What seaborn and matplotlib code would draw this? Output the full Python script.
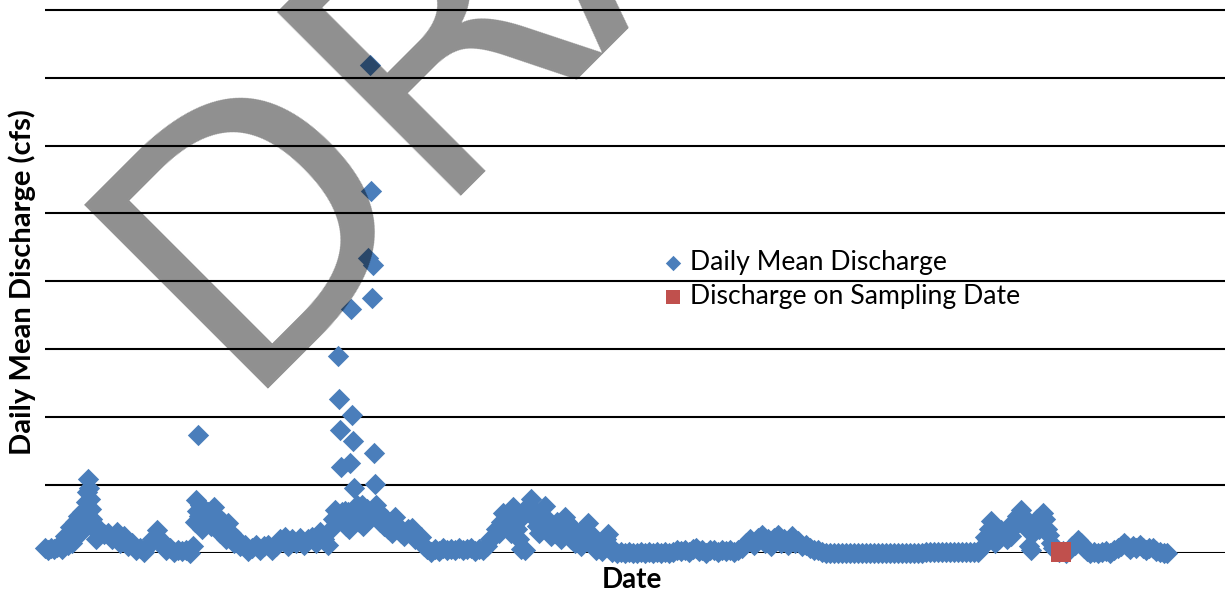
import numpy as np
import pandas as pd
import matplotlib
matplotlib.use("Agg")
import matplotlib.pyplot as plt
import seaborn as sns

# daily mean discharge (day offset from first record, cfs)
start = pd.Timestamp("2009-10-01")
days = [0, 3, 6, 9, 12, 15, 17, 20, 23, 25, 27, 30, 33, 35, 37, 39, 41, 42, 43, 44,
        45, 46, 47, 49, 51, 55, 59, 63, 67, 72, 75, 79, 83, 87, 91, 95, 99, 103, 107, 112,
        115, 118, 121, 125, 129, 133, 137, 141, 145, 148, 150, 151, 152, 153, 154, 155, 157, 160, 163, 166,
        169, 172, 175, 178, 181, 183, 186, 189, 192, 195, 200, 203, 207, 211, 215, 219, 223, 227, 231, 235,
        240, 243, 247, 251, 255, 259, 263, 267, 271, 275, 279, 283, 286, 288, 290, 291, 293, 294, 295, 296,
        297, 298, 299, 300, 301, 302, 303, 304, 305, 306, 307, 308, 309, 310, 311, 312, 313, 314, 315, 316,
        317, 318, 319, 320, 321, 322, 323, 324, 325, 326, 327, 328, 329, 330, 331, 332, 333, 334, 335, 337,
        339, 341, 343, 345, 347, 350, 353, 356, 359, 363, 367, 370, 373, 376, 379, 382, 386, 390, 394, 398,
        402, 406, 410, 414, 418, 422, 426, 430, 434, 438, 442, 445, 448, 451, 454, 456, 458, 460, 462, 464,
        466, 468, 470, 472, 474, 476, 478, 480, 482, 484, 486, 488, 490, 492, 494, 496, 498, 500, 502, 504,
        506, 508, 510, 512, 514, 516, 518, 520, 522, 524, 526, 528, 530, 532, 534, 536, 538, 540, 543, 545,
        547, 549, 551, 553, 555, 557, 559, 561, 563, 565, 567, 572, 576, 580, 584, 588, 592, 596, 600, 604,
        608, 612, 616, 620, 624, 628, 632, 636, 640, 644, 648, 651, 654, 657, 661, 665, 669, 673, 677, 681,
        685, 689, 693, 697, 701, 705, 709, 713, 717, 720, 723, 726, 729, 733, 736, 739, 743, 747, 750, 753,
        757, 761, 765, 769, 773, 777, 781, 785, 789, 793, 797, 801, 805, 809, 813, 817, 821, 825, 829, 833,
        837, 841, 845, 849, 853, 857, 861, 865, 869, 873, 877, 881, 885, 889, 893, 897, 901, 905, 909, 913,
        917, 921, 925, 929, 933, 938, 940, 942, 944, 946, 948, 950, 952, 954, 956, 958, 960, 962, 964, 966,
        968, 970, 972, 974, 976, 978, 980, 982, 984, 986, 988, 990, 992, 994, 996, 998, 1000, 1002, 1004, 1006,
        1008, 1011, 1014, 1018, 1021, 1024, 1027, 1030, 1033, 1036, 1039, 1042, 1045, 1049, 1053, 1057, 1061, 1065, 1069, 1073,
        1076, 1079, 1082, 1085, 1088, 1091, 1095, 1098, 1101, 1104, 1108, 1111, 1115, 1119, 1122]
cfs = [7, 5, 8, 6, 9, 10, 6, 25, 12, 38, 15, 45, 55, 30, 60, 50, 75, 90, 109, 95,
       80, 65, 50, 35, 20, 34, 28, 30, 20, 31, 15, 25, 10, 15, 5, 7, 2, 10, 20, 34,
       20, 10, 5, 7, 2, 5, 3, 5, 0, 10, 45, 78, 62, 174, 55, 70, 35, 50, 60, 40,
       68, 55, 30, 45, 20, 44, 30, 15, 20, 10, 12, 3, 8, 12, 5, 10, 12, 4, 10, 20,
       24, 10, 20, 15, 22, 12, 20, 24, 15, 31, 20, 12, 35, 50, 63, 45, 290, 227, 181, 126,
       60, 45, 55, 62, 40, 50, 60, 35, 133, 359, 203, 165, 96, 60, 50, 70, 55, 45, 60, 50,
       70, 40, 55, 60, 45, 65, 434, 55, 718, 533, 376, 424, 147, 102, 70, 55, 62, 50, 45, 55,
       40, 50, 35, 45, 30, 53, 40, 30, 25, 35, 37, 20, 25, 24, 10, 6, 2, 6, 3, 7,
       4, 6, 5, 8, 4, 6, 7, 3, 6, 5, 10, 20, 24, 35, 30, 45, 59, 40, 55, 45,
       30, 68, 50, 35, 20, 6, 55, 5, 60, 70, 80, 60, 50, 40, 30, 55, 45, 69, 50, 35,
       25, 40, 30, 45, 35, 20, 40, 53, 45, 30, 20, 35, 15, 30, 20, 10, 25, 35, 44, 30,
       20, 10, 5, 15, 8, 3, 12, 20, 28, 10, 2, 0, 1, 0, 1, 0, 0, 1, 0, 1,
       0, 1, 0, 1, 0, 2, 4, 3, 5, 2, 6, 7, 3, 5, 0, 4, 5, 2, 4, 3,
       5, 2, 4, 8, 15, 20, 12, 22, 26, 15, 20, 10, 22, 27, 15, 20, 12, 25, 15, 18,
       10, 12, 7, 5, 4, 1, 0, 0, 0, 0, 0, 0, 0, 0, 0, 0, 0, 0, 0, 0,
       0, 0, 0, 0, 0, 0, 0, 0, 0, 0, 0, 2, 2, 2, 2, 2, 2, 2, 2, 2,
       2, 2, 2, 2, 2, 10, 24, 20, 35, 47, 30, 15, 25, 20, 34, 30, 26, 20, 35, 25,
       45, 40, 55, 50, 63, 55, 45, 35, 10, 4, 30, 40, 50, 35, 45, 59, 50, 35, 26, 15,
       8, 4, 2, 3, 0, 5, 10, 12, 19, 15, 8, 3, 0, 2, 0, 1, 3, 0, 4, 8,
       10, 15, 10, 6, 10, 8, 12, 7, 4, 8, 7, 3, 1, 0, 0]

# sampling event
sample_day = [1016]
sample_cfs = [1]

daily = pd.DataFrame({"Date": start + pd.to_timedelta(days, unit="D"), "cfs": cfs})
sample = pd.DataFrame({"Date": start + pd.to_timedelta(sample_day, unit="D"), "cfs": sample_cfs})

sns.set_style("white")
plt.rcParams["font.family"] = ["Lato", "DejaVu Sans"]
plt.rcParams["text.color"] = "black"
plt.rcParams["axes.labelcolor"] = "black"

fig = plt.figure(figsize=(12.25, 5.93), dpi=100)
ax = fig.add_axes([45 / 1225, 40 / 593, 1180 / 1225, 553 / 593])

sns.scatterplot(data=daily, x="Date", y="cfs", marker="D", s=118, color="#4A7EBB",
                linewidth=0, label="Daily Mean Discharge", ax=ax, zorder=3, clip_on=False)
sns.scatterplot(data=sample, x="Date", y="cfs", marker="s", s=200, color="#C0504D",
                linewidth=0, label="Discharge on Sampling Date", ax=ax, zorder=4, clip_on=False)

ax.set_ylim(0, 814.4)
ax.set_xlim(start, start + pd.Timedelta(days=1180))
ax.set_yticks(np.arange(0, 801, 100))
ax.set_yticklabels([])
ax.set_xticks([])
ax.tick_params(length=0)
ax.grid(axis="y", color="black", linewidth=1.5)
ax.set_axisbelow(True)
for s in ax.spines.values():
    s.set_visible(False)

ax.set_xlabel("Date", fontsize=20, fontweight="bold")
ax.xaxis.set_label_coords(0.497, -0.026)
ax.set_ylabel("Daily Mean Discharge (cfs)", fontsize=21, fontweight="bold")
ax.yaxis.set_label_coords(-0.008, 0.49)

ax.legend(loc="upper left", bbox_to_anchor=(662 / 1225, 1 - 250 / 593),
          bbox_transform=fig.transFigure, frameon=False, fontsize=19.2,
          markerscale=0.72, handlelength=0.8, handletextpad=0.24,
          borderpad=0, borderaxespad=0, labelspacing=0.34)

# watermark
fig.text(233 / 1225, 204 / 593, "DRAFT", fontsize=256, color="black", alpha=0.44,
         rotation=45, rotation_mode="anchor", ha="left", va="baseline",
         family="DejaVu Sans", zorder=10)

fig.savefig("out.png", dpi=100)
